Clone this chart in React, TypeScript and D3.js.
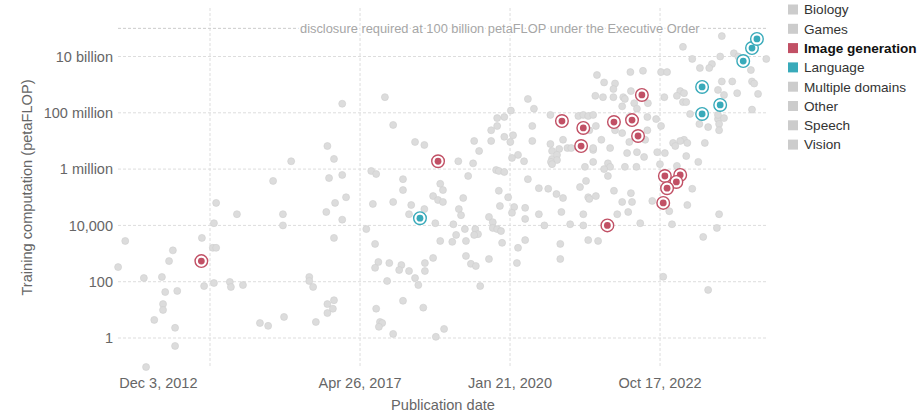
import React from "react";
import * as d3 from "d3";

// ---------- data (publication year as decimal, training compute in petaFLOP) ----------
const legendCategories = ["Biology", "Games", "Image generation", "Language", "Multiple domains", "Other", "Speech", "Vision"];
const highlighted = ["Image generation", "Language"];

const imageGeneration: [number, number][] = [
  [2014.42, 540], [2018.74, 1.9e6], [2021.0, 5.1e7], [2021.39, 2.9e7], [2021.35, 6.6e6],
  [2021.95, 4.7e7], [2022.28, 5.5e7], [2022.46, 4.3e8], [2022.39, 1.5e7], [2021.83, 1.0e4],
  [2022.88, 5.7e5], [2023.16, 6.2e5], [2023.09, 3.5e5], [2022.92, 2.1e5], [2022.85, 6.3e4],
];

const language: [number, number][] = [
  [2018.41, 1.8e4], [2023.56, 8.3e8], [2023.56, 9.1e7], [2023.89, 1.9e8],
  [2024.31, 6.9e9], [2024.47, 2.0e10], [2024.56, 4.2e10],
];

const otherDomains: [number, number][] = [
  // 2012-2016
  [2016.06, 1.9e6], [2015.73, 3.8e5], [2014.69, 6.3e4], [2015.07, 2.5e4], [2015.91, 2.5e4],
  [2014.65, 1.2e4], [2015.91, 1.0e4], [2013.03, 2.8e3], [2014.43, 3.6e3], [2013.9, 1.3e3],
  [2014.63, 1.6e3], [2014.69, 1.6e3], [2013.83, 540], [2012.9, 330], [2013.37, 135],
  [2013.7, 147], [2014.65, 90], [2014.94, 98], [2014.96, 65], [2015.18, 76],
  [2014.47, 70], [2013.76, 43], [2013.98, 47], [2013.72, 16], [2013.72, 9.9],
  [2013.56, 4.4], [2013.94, 2.3], [2013.94, 0.52], [2013.41, 0.093], [2015.49, 3.4],
  [2015.64, 2.7], [2015.93, 5.6],
  // 2016-2019
  [2016.99, 2.1e8], [2017.77, 3.6e8], [2017.92, 3.7e7], [2016.72, 6.6e6], [2016.84, 2.3e6],
  [2018.32, 9.2e6], [2018.49, 7.2e6], [2017.52, 8.6e5], [2017.61, 6.7e5], [2016.75, 4.8e5],
  [2016.99, 6.2e5], [2018.1, 4.4e5], [2018.1, 1.8e5], [2018.78, 3.0e5], [2018.83, 1.8e5],
  [2017.06, 1.0e5], [2018.65, 1.1e5], [2016.86, 6.3e4], [2017.55, 5.8e4], [2017.92, 6.8e4],
  [2018.25, 5.3e4], [2018.49, 3.8e4], [2018.21, 2.5e4], [2018.69, 1.2e4], [2018.74, 8.0e4],
  [2018.83, 6.8e4], [2016.7, 3.0e4], [2016.99, 1.6e4], [2016.84, 3.6e3], [2017.43, 7.4e3],
  [2017.59, 2.2e3], [2018.78, 2.8e3], [2017.65, 500], [2017.59, 310], [2017.85, 460],
  [2018.07, 390], [2018.03, 260], [2018.21, 240], [2018.5, 460], [2018.5, 240],
  [2018.65, 700], [2018.32, 135], [2018.38, 76], [2017.81, 106], [2016.39, 147],
  [2016.39, 106], [2016.46, 65], [2016.72, 16], [2016.84, 22], [2016.82, 11],
  [2016.72, 7.7], [2016.51, 3.7], [2017.61, 11], [2018.1, 21], [2018.47, 12],
  [2017.68, 3.7], [2017.72, 3.4], [2017.66, 2.5], [2017.92, 1.4], [2018.7, 1.1],
  [2018.85, 2.1],
  // 2019-2021
  [2019.11, 1.9e6], [2019.38, 1.6e6], [2019.29, 5.7e5], [2019.2, 9.4e4], [2019.49, 4.4e6],
  [2019.4, 1.0e7], [2019.71, 1.0e7], [2019.71, 2.4e7], [2019.82, 3.4e7], [2019.82, 6.5e7],
  [2019.95, 7.1e7], [2020.07, 1.2e8], [2019.95, 1.4e7], [2020.11, 1.6e7], [2020.06, 9.2e6],
  [2020.38, 3.1e8], [2020.49, 1.4e8], [2020.46, 3.4e7], [2020.46, 1.0e7], [2020.2, 3.2e6],
  [2020.09, 2.5e6], [2020.31, 1.9e6], [2019.8, 9.3e5], [2019.85, 8.6e5], [2019.95, 7.9e5],
  [2020.38, 4.4e5], [2019.85, 1.7e5], [2020.02, 1.0e5], [2020.58, 2.1e5], [2020.75, 2.0e5],
  [2020.9, 1.3e5], [2021.02, 9.4e4], [2020.79, 8.4e7], [2021.3, 7.7e7], [2021.39, 8.4e7],
  [2021.48, 7.7e7], [2021.57, 8.4e7], [2021.62, 3.4e7], [2021.5, 2.4e7], [2021.02, 1.1e7],
  [2020.79, 7.8e6], [2020.95, 5.2e6], [2021.1, 5.6e6], [2021.17, 5.6e6], [2021.57, 4.8e6],
  [2020.82, 4.4e6], [2020.82, 2.3e6], [2020.91, 3.2e6], [2020.91, 2.1e6], [2020.8, 1.8e6],
  [2020.82, 1.5e6], [2021.42, 1.2e6], [2021.44, 3.8e5], [2021.33, 2.3e5], [2021.48, 1.0e5],
  [2021.62, 1.1e5], [2021.64, 2.2e9], [2021.61, 4.0e8], [2019.87, 4.9e4], [2020.13, 4.5e4],
  [2020.09, 2.8e4], [2020.33, 4.2e4], [2020.33, 1.7e4], [2020.58, 2.5e4], [2020.99, 3.0e4],
  [2021.39, 2.5e4], [2019.12, 3.8e4], [2019.16, 2.3e4], [2019.67, 2.0e4], [2019.74, 1.3e4],
  [2019.74, 8.1e3], [2019.82, 7.4e3], [2019.89, 6.3e3], [2019.42, 7.4e3], [2019.47, 4.9e3],
  [2019.4, 4.6e3], [2019.23, 7.4e3], [2019.02, 1.1e4], [2019.07, 4.6e3], [2019.25, 2.8e3],
  [2019.0, 2.6e3], [2019.91, 2.4e3], [2020.33, 3.0e3], [2020.2, 1.6e3], [2020.68, 1.0e4],
  [2021.15, 1.1e4], [2021.39, 1.0e4], [2021.48, 3.0e3], [2021.66, 2.8e3], [2020.97, 2.2e3],
  [2020.97, 640], [2020.18, 460], [2019.67, 640], [2019.25, 820], [2019.34, 430],
  [2019.43, 360], [2019.51, 70], [2021.5, 8.7e4], [2021.57, 5.6e6], [2021.57, 1.8e6],
  [2021.72, 1.1e7],
  // 2021-2024
  [2023.92, 5.3e10], [2023.21, 2.2e10], [2023.38, 8.2e9], [2024.14, 1.3e10], [2024.22, 1.0e10],
  [2023.89, 1.0e10], [2024.73, 8.2e9], [2024.45, 3.3e9], [2024.47, 1.3e9], [2024.51, 1.1e9],
  [2024.58, 4.7e8], [2024.2, 5.0e8], [2024.11, 1.3e9], [2023.92, 1.3e9], [2023.85, 6.5e8],
  [2023.96, 4.3e8], [2023.74, 5.4e9], [2023.69, 3.9e9], [2023.52, 3.9e9], [2023.16, 5.9e8],
  [2023.23, 5.0e8], [2023.1, 4.0e8], [2023.21, 2.4e8], [2023.27, 2.4e8], [2023.34, 9.1e7],
  [2023.51, 4.0e7], [2023.67, 3.1e7], [2023.85, 6.0e7], [2023.87, 4.0e7], [2023.87, 2.4e7],
  [2023.96, 6.5e7], [2023.85, 8.4e7], [2024.47, 1.3e8], [2023.61, 8.5e6], [2023.23, 1.1e7],
  [2023.29, 8.5e6], [2023.16, 1.0e7], [2023.03, 8.5e6], [2023.07, 6.6e6], [2022.81, 3.4e7],
  [2022.72, 6.0e7], [2022.88, 3.7e6], [2022.74, 4.0e6], [2022.79, 1.5e6], [2023.27, 2.9e6],
  [2022.81, 2.8e9], [2022.92, 2.8e9], [2022.48, 3.1e9], [2022.25, 2.8e9], [2021.77, 1.2e9],
  [2021.97, 1.1e9], [2021.94, 7.0e8], [2022.26, 5.9e8], [2022.12, 3.6e8], [2022.15, 3.1e8],
  [2022.32, 2.2e8], [2021.75, 3.6e8], [2021.94, 3.6e8], [2022.1, 1.7e8], [2022.37, 1.4e8],
  [2022.57, 2.2e8], [2022.87, 3.6e8], [2022.23, 7.1e7], [2022.56, 7.1e7], [2021.97, 2.4e7],
  [2022.1, 1.9e7], [2022.56, 2.4e7], [2022.23, 9.2e6], [2022.52, 1.1e7], [2021.88, 5.6e6],
  [2022.19, 3.7e6], [2022.37, 4.0e6], [2022.5, 2.7e6], [2021.84, 1.6e6], [2021.88, 1.2e6],
  [2022.15, 1.2e6], [2022.36, 1.2e6], [2023.38, 2.0e5], [2023.49, 1.8e6], [2023.29, 5.3e4],
  [2023.87, 2.5e4], [2023.83, 8.1e3], [2023.58, 3.9e3], [2023.01, 1.1e4], [2022.96, 3.2e4],
  [2022.65, 7.4e4], [2022.43, 1.2e4], [2022.21, 3.0e4], [2022.01, 2.5e4], [2022.28, 6.8e4],
  [2022.1, 6.8e4], [2022.26, 1.4e5], [2021.95, 1.7e5], [2022.85, 150], [2023.67, 51],
  [2021.77, 1.0e6], [2021.84, 5.7e5], [2023.1, 1.3e6],
];

const yTickValues = [1, 100, 1e4, 1e6, 1e8, 1e10];
const yTickLabels = ["1", "100", "10,000", "1 million", "100 million", "10 billion"];
const xLabelDates = ["2012-12-03", "2017-04-26", "2020-01-21", "2022-10-17"];
const xGridDates = ["2014-07-31", "2017-04-26", "2020-01-21", "2022-10-17"];
const xDomainDates = ["2012-12-03", "2024-09-29"];
const thresholdValue = 1e11;
const thresholdLabel = "disclosure required at 100 billion petaFLOP under the Executive Order";

const colors: Record<string, string> = {
  "Image generation": "#c15065",
  Language: "#38aaba",
};
const GRAY = "#cccccc";

function yearToDate(y: number): Date {
  const yr = Math.floor(y);
  const start = Date.UTC(yr, 0, 1);
  const end = Date.UTC(yr + 1, 0, 1);
  return new Date(start + (y - yr) * (end - start));
}

export default function App() {
  const W = 921, H = 416;
  const left = 119.25, right = 767, top = 8, bottom = 367;
  const x = d3.scaleUtc().domain(xDomainDates.map((s) => new Date(s + "T00:00:00Z"))).range([left, right]);
  const y = d3.scaleLog().domain([10 ** -1.03, 10 ** 11.723]).range([bottom, top]);
  const fmt = d3.utcFormat("%b %-d, %Y");
  const font = "'Liberation Sans', Arial, sans-serif";

  const series: { name: string; data: [number, number][] }[] = [
    { name: "Image generation", data: imageGeneration },
    { name: "Language", data: language },
  ];

  return (
    <svg width={W} height={H} style={{ position: "absolute", left: 0, top: 0, fontFamily: font }}>
      <rect width={W} height={H} fill="white" />
      {/* horizontal grid */}
      {yTickValues.map((v, i) => (
        <g key={"y" + i}>
          <line x1={118} x2={right} y1={y(v)} y2={y(v)} stroke="#dddddd" strokeDasharray="3,2" />
          <text x={113} y={y(v)} dy="0.36em" textAnchor="end" fontSize={14.5} fill="#666">
            {yTickLabels[i]}
          </text>
        </g>
      ))}
      {/* vertical grid */}
      {xGridDates.map((s) => {
        const xx = x(new Date(s + "T00:00:00Z"));
        return <line key={s} x1={xx} x2={xx} y1={top} y2={bottom} stroke="#dddddd" strokeDasharray="3,2" />;
      })}
      {xLabelDates.map((s, i) => {
        const xx = x(new Date(s + "T00:00:00Z"));
        return (
          <text key={"xl" + s} x={i === 0 ? left : xx} y={388} textAnchor={i === 0 ? "start" : "middle"} fontSize={14.5} fill="#666">
            {fmt(new Date(s + "T00:00:00Z"))}
          </text>
        );
      })}
      {/* threshold line */}
      <line x1={118} x2={right} y1={y(thresholdValue)} y2={y(thresholdValue)} stroke="#cccccc" strokeDasharray="3,2" />
      <text x={300} y={y(thresholdValue)} dy="0.35em" fontSize={12.85} fill="#a6a6a6" stroke="white" strokeWidth={4} paintOrder="stroke" strokeLinejoin="round">
        {thresholdLabel}
      </text>
      {/* gray points */}
      {otherDomains.map((d, i) => (
        <circle key={"g" + i} cx={x(yearToDate(d[0]))} cy={y(d[1])} r={3.5} fill="#dcdcdc" stroke="#cfcfcf" strokeWidth={0.6} />
      ))}
      {/* highlighted */}
      {series.map((s) =>
        s.data.map((d, i) => {
          const cx = x(yearToDate(d[0]));
          const cy = y(d[1]);
          return (
            <g key={s.name + i}>
              <circle cx={cx} cy={cy} r={6.3} fill="white" stroke={colors[s.name]} strokeWidth={1.4} />
              <circle cx={cx} cy={cy} r={3.4} fill={colors[s.name]} />
            </g>
          );
        })
      )}
      {/* axis titles */}
      <text x={443} y={410} textAnchor="middle" fontSize={14.6} fill="#666">Publication date</text>
      <text transform={`translate(32, ${(top + bottom) / 2}) rotate(-90)`} textAnchor="middle" fontSize={14.6} fill="#666">
        Training computation (petaFLOP)
      </text>
      {/* legend */}
      {legendCategories.map((c, i) => {
        const isH = highlighted.includes(c);
        const yy = 9.5 + i * 19.3;
        return (
          <g key={c}>
            <rect x={788} y={yy - 5} width={10} height={10} fill={isH ? colors[c] : GRAY} />
            <text x={804} y={yy} dy="0.36em" fontSize={13.6} fill={c === "Image generation" ? "#111" : "#333"} fontWeight={c === "Image generation" ? 700 : 400}>
              {c}
            </text>
          </g>
        );
      })}
    </svg>
  );
}
